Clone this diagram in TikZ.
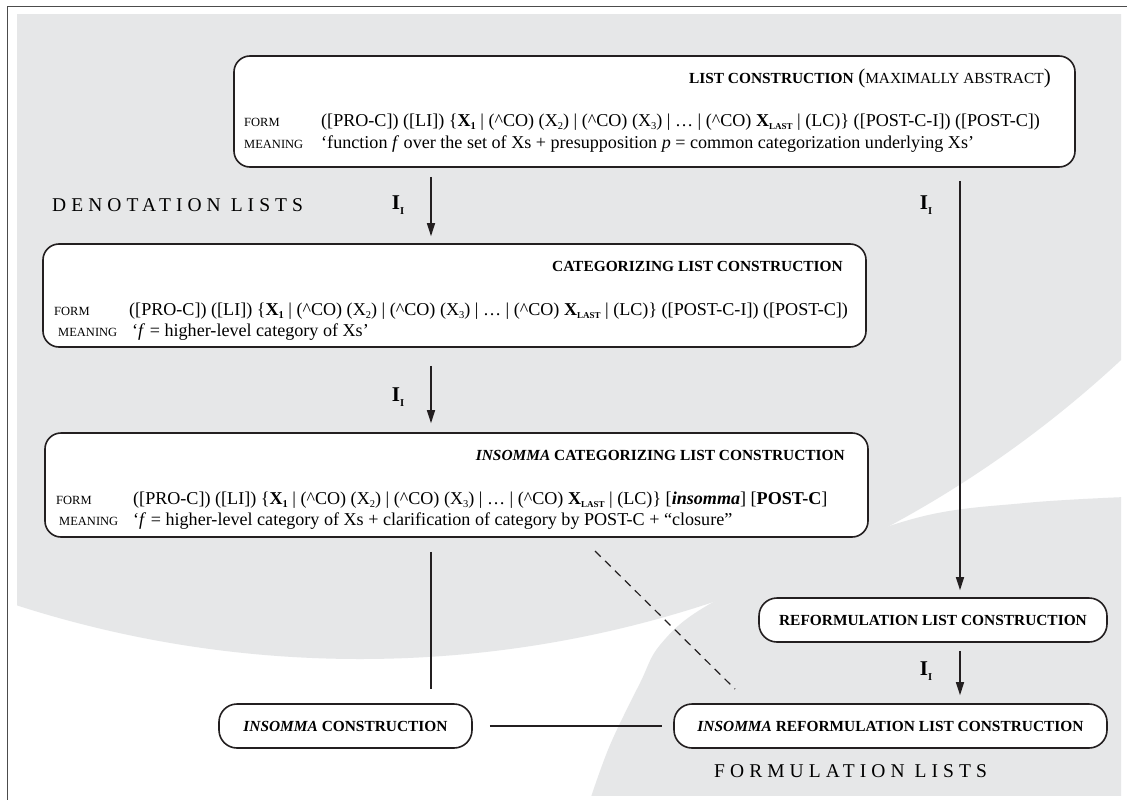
\documentclass[tikz,border=0pt]{standalone}
\usepackage{fontspec}
\setmainfont{Liberation Serif}
\usetikzlibrary{arrows.meta}
\definecolor{bg}{RGB}{230,231,232}
\definecolor{ink}{RGB}{35,31,32}
\newfontfamily\spacedfont[LetterSpace=26]{Liberation Serif}
\newcommand{\mysub}[1]{\raisebox{-3.4pt}{\fontsize{10.5}{11}\selectfont #1}}
\newcommand{\lblsc}[1]{{\fontsize{12.5}{14}\selectfont #1}}
\newcommand{\ttl}[1]{{\fontsize{15.4}{17}\selectfont\bfseries #1}}
\newcommand{\regsc}[1]{{\fontsize{15.4}{17}\selectfont #1}}
\newcommand{\iilabel}{\textbf{I}\raisebox{-5pt}{\fontsize{10.5}{11}\selectfont\bfseries I}}
\newcommand{\listcore}{([PRO-C]) ([LI]) \{\textbf{X}\mysub{\bfseries 1} | (\textasciicircum CO) (X\mysub{2}) | (\textasciicircum CO) (X\mysub{3}) | … | (\textasciicircum CO) \textbf{X}\mysub{\fontsize{9}{9}\selectfont\bfseries LAST} | (LC)\}}
\begin{document}
\begin{tikzpicture}[x=1pt,y=-1pt,
  box/.style={draw=ink, line width=1.6pt, fill=white, rounded corners=16pt, inner sep=0pt},
  pill/.style={draw=ink, line width=1.6pt, fill=white, rounded corners=18pt, inner sep=0pt, minimum height=44pt, font=\fontsize{15.4}{17}\selectfont\bfseries},
  txt/.style={inner sep=0pt, font=\fontsize{18.1}{20}\selectfont},
  conn/.style={draw=ink, line width=1.4pt},
  arr/.style={conn, -{Triangle[length=13pt,width=8pt]}},
  lbl/.style={inner sep=0pt, font=\fontsize{21}{22}\selectfont},
  region/.style={inner sep=0pt, font=\fontsize{19.5}{22}\spacedfont}]
\useasboundingbox (0,0) rectangle (1127,800);
\fill[white] (0,0) rectangle (1127,800);
\begin{scope}
\clip (17,15) rectangle (1121,795);
\fill[bg] (360,-459) circle[radius=1118pt];
\fill[bg] plot[smooth,tension=0.6] coordinates {(590,800) (610,745) (640,683) (660,645) (703,608) (800,560) (920,517) (1025,503) (1125,497)} -- (1125,800) -- cycle;
\end{scope}
\draw[line width=1pt, black!70] (7,800) -- (7,7) -- (1127,7);
\coordinate (cx) at (431,0);
\coordinate (rx) at (960,0);
% boxes
\node[box, minimum width=841pt, minimum height=111pt] (b1) at (654.5,111.5) {};
\node[box, minimum width=823pt, minimum height=103pt] (b2) at (454.5,295.5) {};
\node[box, minimum width=823pt, minimum height=104pt] (b3) at (456.5,485) {};
\node[pill, minimum width=348pt] (rf) at (933,620) {REFORMULATION LIST CONSTRUCTION};
\node[pill, minimum width=253pt] (ic) at (345.5,726) {\textit{INSOMMA} CONSTRUCTION};
\node[pill, minimum width=433pt] (ir) at (890.5,726) {\textit{INSOMMA} REFORMULATION LIST CONSTRUCTION};
% box 1 text
\node[txt, anchor=base east] (t1) at (1051,83) {\ttl{LIST CONSTRUCTION} {\fontsize{21}{22}\selectfont(}\regsc{MAXIMALLY ABSTRACT}{\fontsize{21}{22}\selectfont)}};
\node[txt, anchor=base west] (f1l) at (244,126) {\lblsc{FORM}};
\node[txt, anchor=base west] (f1) at (321,126) {\listcore{} ([POST-C-I]) ([POST-C])};
\node[txt, anchor=base west] (m1l) at (244,148) {\lblsc{MEANING}};
\node[txt, anchor=base west] (m1) at (321,148) {‘function \textit{f} over the set of Xs + presupposition \textit{p} = common categorization underlying Xs’};
% box 2 text
\node[txt, anchor=base east] (t2) at (843,271) {\ttl{CATEGORIZING LIST CONSTRUCTION}};
\node[txt, anchor=base west] (f2l) at (54,315) {\lblsc{FORM}};
\node[txt, anchor=base west] (f2) at (129,315) {\listcore{} ([POST-C-I]) ([POST-C])};
\node[txt, anchor=base west] (m2l) at (58,336) {\lblsc{MEANING}};
\node[txt, anchor=base west] (m2) at (132,336) {‘\textit{f} = higher-level category of Xs’};
% box 3 text
\node[txt, anchor=base east] (t3) at (845,460) {\ttl{\textit{INSOMMA} CATEGORIZING LIST CONSTRUCTION}};
\node[txt, anchor=base west] (f3l) at (56,504) {\lblsc{FORM}};
\node[txt, anchor=base west] (f3) at (133,504) {\listcore{} [\textbf{\textit{insomma}}] [\textbf{POST-C}]};
\node[txt, anchor=base west] (m3l) at (59,525) {\lblsc{MEANING}};
\node[txt, anchor=base west] (m3) at (133,525) {‘\textit{f} = higher-level category of Xs + clarification of category by POST-C + “closure”};
% region labels
\node[region, anchor=base west] (den) at (52,211) {DENOTATION LISTS};
\node[region, anchor=base west] (fml) at (714,777) {FORMULATION LISTS};
% connectors
\draw[arr, shorten <=9pt, shorten >=7pt] (b1.south -| cx) -- (b2.north -| cx);
\draw[arr, shorten <=13pt, shorten >=7pt] (b1.south -| rx) -- (rf.north -| rx);
\draw[arr, shorten <=18pt, shorten >=9pt] (b2.south -| cx) -- (b3.north -| cx);
\draw[conn, shorten <=14pt, shorten >=14pt] (b3.south -| cx) -- (ic.north -| cx);
\draw[arr, shorten <=8pt, shorten >=8pt] (rf.south -| rx) -- (ir.north -| rx);
\draw[conn, shorten <=17pt, shorten >=11pt] (ic.east) -- (ir.west);
\coordinate (ds) at (595,551);
\coordinate (de) at (735,689);
\draw[conn, line width=1.2pt, dash pattern=on 8pt off 6pt] (ds) -- (de);
% labels
\node[lbl] (i1) at (398,205) {\iilabel};
\node[lbl] (i2) at (926,205) {\iilabel};
\node[lbl] (i3) at (398,397) {\iilabel};
\node[lbl] (i4) at (926,671) {\iilabel};
\end{tikzpicture}
\end{document}
